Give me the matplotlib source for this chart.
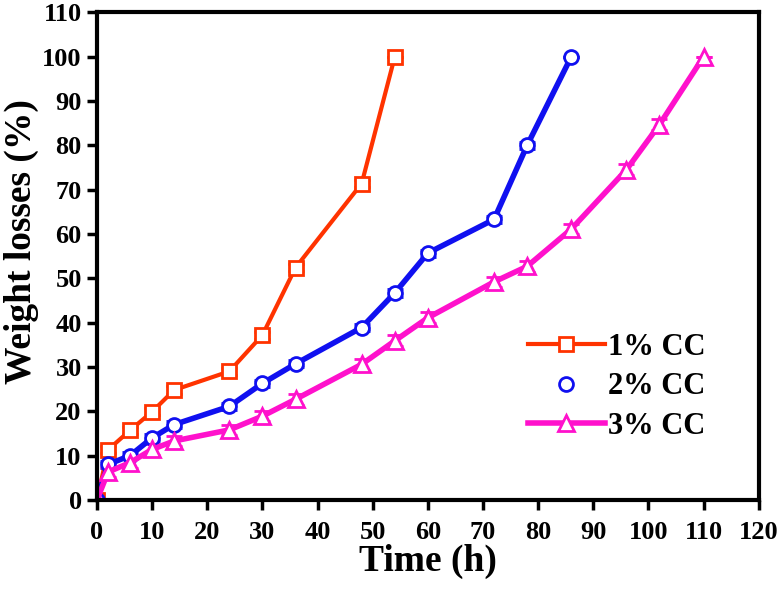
import numpy as np
import matplotlib.pyplot as plt
from matplotlib.lines import Line2D

plt.rcParams['font.family'] = ['Liberation Serif', 'DejaVu Serif']
plt.rcParams['font.weight'] = 'bold'

# データ
time_1 = [0, 2, 6, 10, 14, 24, 30, 36, 48, 54]
loss_1 = [0, 11.3, 15.7, 19.9, 24.8, 29.0, 37.2, 52.4, 71.4, 100]
err_1 = [0, 0.8, 0.8, 0.8, 0.8, 0.8, 0.8, 0.8, 0.8, 0]

time_2 = [0, 2, 6, 10, 14, 24, 30, 36, 48, 54, 60, 72, 78, 86]
loss_2 = [0, 8.0, 10.0, 14.0, 17.0, 21.1, 26.3, 30.7, 38.9, 46.7, 55.7, 63.3, 80.0, 100]
err_2 = [0, 0.8, 0.8, 0.8, 0.8, 0.8, 0.8, 0.8, 0.8, 0.8, 0.8, 0.8, 0.8, 0]

time_3 = [0, 2, 6, 10, 14, 24, 30, 36, 48, 54, 60, 72, 78, 86, 96, 102, 110]
loss_3 = [0, 6.3, 8.4, 11.4, 13.3, 15.8, 18.9, 22.7, 30.6, 35.9, 41.1, 49.2, 52.7,
          61.1, 74.5, 84.7, 100]
err_3 = [0, 1.2, 1.2, 1.2, 1.2, 1.2, 1.2, 1.2, 1.2, 1.2, 1.2, 1.2, 1.2, 1.2, 1.2, 1.2, 0]

labels = ["1% CC", "2% CC", "3% CC"]
colors = ["#FF3300", "#1010F0", "#FF11CC"]

fig = plt.figure(figsize=(7.79, 5.93), dpi=100)
ax = fig.add_axes([0.1245, 0.157, 0.8495, 0.822])

series = [(time_1, loss_1, err_1, 's', 3.0, 10),
          (time_2, loss_2, err_2, 'o', 4.0, 10),
          (time_3, loss_3, err_3, '^', 4.0, 11)]

for (t, y, e, m, lw, ms), c in zip(series, colors):
    ax.errorbar(t, y, yerr=e, color=c, lw=lw, marker=m, ms=ms,
                mfc='white', mec=c, mew=2, ecolor=c, elinewidth=2,
                capsize=6, capthick=2)

ax.set_xlim(0, 120)
ax.set_ylim(0, 110)
ax.set_xticks(np.arange(0, 121, 10))
ax.set_yticks(np.arange(0, 111, 10))
ax.tick_params(direction='out', length=7, width=2.5, labelsize=19)
ax.tick_params(axis='x', pad=8)
ax.tick_params(axis='y', pad=4)
for lab in ax.get_xticklabels() + ax.get_yticklabels():
    lab.set_fontweight('bold')
for sp in ax.spines.values():
    sp.set_linewidth(3)

ax.set_xlabel("Time (h)", fontsize=27, fontweight='bold', labelpad=0)
ax.set_ylabel("Weight losses (%)", fontsize=27, fontweight='bold')
ax.yaxis.set_label_coords(-0.088, 0.53)

# 凡例（元図に合わせて手動で作成）
handles = [
    Line2D([], [], color=colors[0], lw=3, marker='s', ms=10, mfc='white', mec=colors[0], mew=2),
    Line2D([], [], color=colors[1], lw=0, marker='o', ms=10, mfc='white', mec=colors[1], mew=2),
    Line2D([], [], color=colors[2], lw=4, marker='^', ms=11, mfc='white', mec=colors[2], mew=2),
]
ax.legend(handles, labels, loc='center left', bbox_to_anchor=(0.61, 0.232),
          frameon=False, prop={'size': 22, 'weight': 'bold'},
          handlelength=2.5, handletextpad=0.1, labelspacing=0.35)

fig.savefig("out.png", dpi=100)
